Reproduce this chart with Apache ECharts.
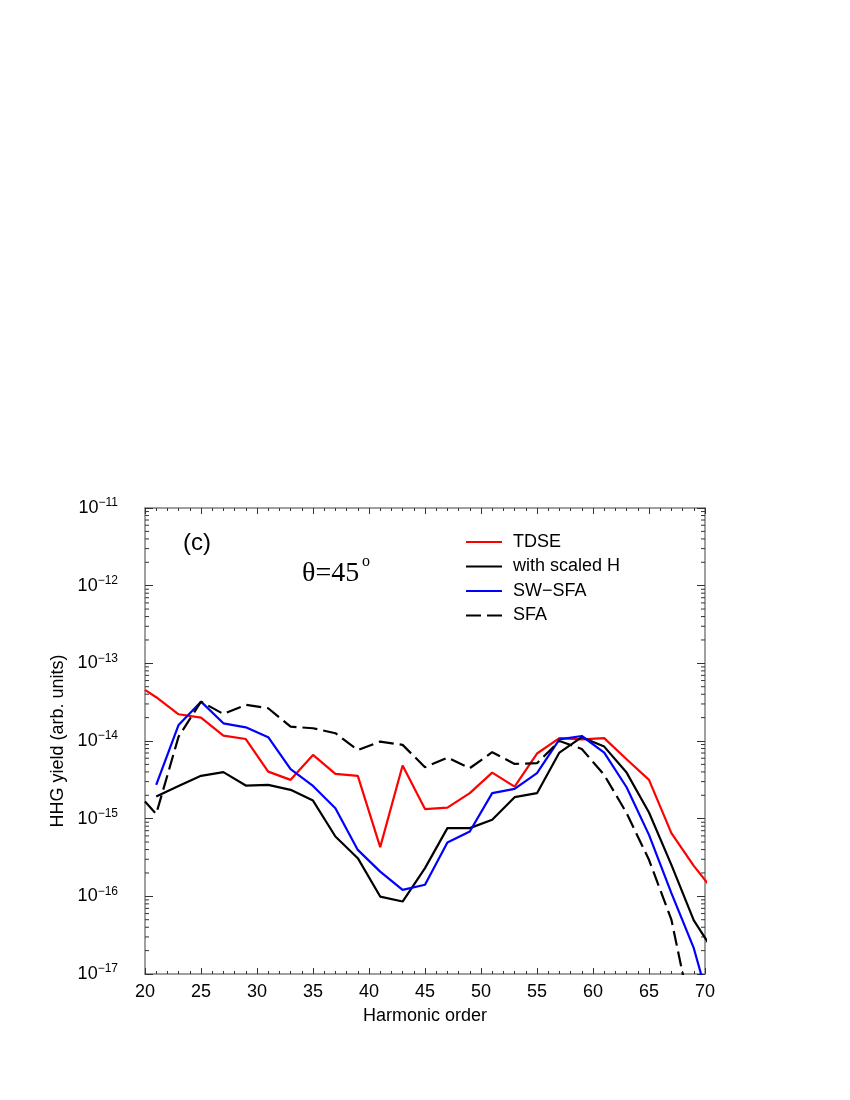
<!DOCTYPE html>
<html>
<head>
<meta charset="utf-8">
<script src="https://cdn.jsdelivr.net/npm/echarts@6/dist/echarts.min.js"></script>
<style>
  html, body { margin: 0; padding: 0; background: #fff; }
  #main { width: 850px; height: 1100px; }
</style>
</head>
<body>
<div id="main"></div>
<script>
// harmonic orders (odd), last one sits just outside the axis and is clipped
var orders = [21, 23, 25, 27, 29, 31, 33, 35, 37, 39, 41, 43, 45, 47, 49, 51, 53, 55, 57, 59, 61, 63, 65, 67, 69, 71];

// value where the curves enter at the left edge (order 20)
var edgeOrder = 20;
var tdseEdge = 4.55e-14;
var sfaEdge = 1.66e-15;

var tdse = [3.66e-14, 2.21e-14, 2.0e-14, 1.17e-14, 1.06e-14, 4.03e-15, 3.16e-15, 6.62e-15, 3.78e-15, 3.56e-15,
            4.3e-16, 4.83e-15, 1.33e-15, 1.39e-15, 2.13e-15, 3.92e-15, 2.59e-15, 6.9e-15, 1.09e-14, 1.05e-14,
            1.09e-14, 5.83e-15, 3.16e-15, 6.5e-16, 2.47e-16, 1.07e-16];
var scaledH = [1.93e-15, 2.64e-15, 3.56e-15, 3.98e-15, 2.67e-15, 2.72e-15, 2.35e-15, 1.71e-15, 5.89e-16, 3.1e-16,
               9.93e-17, 8.57e-17, 2.31e-16, 7.55e-16, 7.55e-16, 9.66e-16, 1.89e-15, 2.13e-15, 7.1e-15, 1.12e-14,
               8.47e-15, 3.92e-15, 1.2e-15, 2.54e-16, 4.89e-17, 1.75e-17];
var swsfa = [2.72e-15, 1.61e-14, 3.21e-14, 1.69e-14, 1.5e-14, 1.12e-14, 4.33e-15, 2.64e-15, 1.36e-15, 3.96e-16,
             2.08e-16, 1.21e-16, 1.41e-16, 4.93e-16, 6.83e-16, 2.13e-15, 2.42e-15, 3.85e-15, 1.05e-14, 1.16e-14,
             7.1e-15, 2.54e-15, 6.18e-16, 1.1e-16, 2.15e-17, 2e-18];
var sfa = [1.15e-15, 1.14e-14, 3.21e-14, 2.23e-14, 2.92e-14, 2.64e-14, 1.53e-14, 1.46e-14, 1.26e-14, 7.67e-15,
           9.82e-15, 8.91e-15, 4.6e-15, 6.11e-15, 4.47e-15, 7.17e-15, 5.07e-15, 5.18e-15, 1.0e-14, 7.9e-15,
           3.66e-15, 1.18e-15, 2.95e-16, 5.0e-17, 2.1e-18, null];

var seriesNames = ['TDSE', 'with scaled H', 'SW\u2212SFA', 'SFA'];
var dash = [15, 6];

// minor log ticks 2..9 x 10^n
var minorLog = [];
for (var n = -17; n < -11; n++) {
  for (var k = 2; k <= 9; k++) minorLog.push([20, k * Math.pow(10, n)]);
}

function pairs(ys, edge) {
  var d = edge != null ? [[edgeOrder, edge]] : [];
  for (var i = 0; i < orders.length; i++) d.push([orders[i], ys[i]]);
  return d;
}

var font = 'Liberation Sans';
var axisGray = '#808080';

var myChart = echarts.init(document.getElementById('main'));
var option = {
  backgroundColor: '#fff',
  animation: false,
  textStyle: { fontFamily: font },
  grid: { left: 145, right: 145, top: 508, bottom: 126 },
  legend: {
    data: [
      { name: seriesNames[0] },
      { name: seriesNames[1] },
      { name: seriesNames[2] },
      { name: seriesNames[3], lineStyle: { type: dash } }
    ],
    orient: 'vertical',
    left: 465,
    top: 532,
    padding: 0,
    itemWidth: 36,
    itemHeight: 14,
    itemGap: 4.5,
    itemStyle: { opacity: 0 },
    textStyle: { fontSize: 18, color: '#000', lineHeight: 20, padding: [0, 0, 0, 6] }
  },
  xAxis: [{
    type: 'value', min: 20, max: 70, interval: 5,
    name: 'Harmonic order', nameLocation: 'middle', nameGap: 33,
    nameTextStyle: { fontSize: 18, color: '#000' },
    axisLine: { lineStyle: { color: axisGray, width: 1.5 } },
    axisTick: { inside: true, length: 6, lineStyle: { color: '#333' } },
    minorTick: { show: true, splitNumber: 5, length: 3, lineStyle: { color: '#333' } },
    axisLabel: { fontSize: 18, color: '#000', margin: 9 },
    splitLine: { show: false }
  }, {
    type: 'value', min: 20, max: 70, interval: 5, position: 'top',
    axisLine: { lineStyle: { color: axisGray, width: 1.5 } },
    axisTick: { inside: true, length: 6, lineStyle: { color: '#333' } },
    minorTick: { show: true, splitNumber: 5, length: 3, lineStyle: { color: '#333' } },
    axisLabel: { show: false },
    splitLine: { show: false }
  }],
  yAxis: [{
    type: 'log', logBase: 10, min: 1e-17, max: 1e-11, splitNumber: 6,
    name: 'HHG yield (arb. units)', nameLocation: 'middle', nameGap: 62,
    nameTextStyle: { fontSize: 18, color: '#000' },
    axisLine: { lineStyle: { color: axisGray, width: 1.5 } },
    axisTick: { inside: true, length: 8, lineStyle: { color: '#333' } },
    axisLabel: {
      margin: 27,
      formatter: function (v) {
        var e = Math.round(Math.log(v) / Math.LN10);
        return '{b|10}{s|\u2212' + Math.abs(e) + '}';
      },
      rich: {
        b: { fontSize: 18, lineHeight: 22, color: '#000', fontFamily: font },
        s: { fontSize: 12, lineHeight: 14, verticalAlign: 'top', color: '#000', fontFamily: font }
      }
    },
    splitLine: { show: false }
  }, {
    type: 'log', logBase: 10, min: 1e-17, max: 1e-11, splitNumber: 6, position: 'right',
    axisLine: { lineStyle: { color: axisGray, width: 1.5 } },
    axisTick: { inside: true, length: 8, lineStyle: { color: '#333' } },
    axisLabel: { show: false },
    splitLine: { show: false }
  }],
  graphic: [
    { type: 'text', left: 183, top: 531, style: { text: '(c)', font: '24px "Liberation Sans"', fill: '#000' } },
    { type: 'text', left: 302, top: 560, style: { text: '\u03b8=45', font: '28px "Liberation Serif"', fill: '#000' } },
    { type: 'text', left: 362, top: 554, style: { text: 'o', font: '16px "Liberation Serif"', fill: '#000' } }
  ],
  series: [{
    name: seriesNames[0], type: 'line', symbol: 'none', data: pairs(tdse, tdseEdge),
    lineStyle: { color: '#ff0000', width: 2.2 }, itemStyle: { color: '#ff0000' }
  }, {
    name: seriesNames[1], type: 'line', symbol: 'none', data: pairs(scaledH),
    lineStyle: { color: '#000', width: 2.2 }, itemStyle: { color: '#000' }
  }, {
    name: seriesNames[2], type: 'line', symbol: 'none', data: pairs(swsfa),
    lineStyle: { color: '#0000ff', width: 2.2 }, itemStyle: { color: '#0000ff' }
  }, {
    name: seriesNames[3], type: 'line', symbol: 'none', data: pairs(sfa, sfaEdge),
    lineStyle: { color: '#000', width: 2.2, type: dash }, itemStyle: { color: '#000' }
  }, {
    // minor ticks of the log axes (left and right)
    type: 'custom', silent: true, data: minorLog,
    renderItem: function (params, api) {
      var v = api.value(1);
      var p = api.coord([20, v]);
      var q = api.coord([70, v]);
      return {
        type: 'group',
        children: [
          { type: 'line', shape: { x1: p[0], y1: p[1], x2: p[0] + 4, y2: p[1] }, style: { stroke: '#333', lineWidth: 1 } },
          { type: 'line', shape: { x1: q[0] - 4, y1: q[1], x2: q[0], y2: q[1] }, style: { stroke: '#333', lineWidth: 1 } }
        ]
      };
    }
  }]
};
if (option && typeof option === "object") {
  myChart.setOption(option, true);
}
</script>
</body>
</html>
